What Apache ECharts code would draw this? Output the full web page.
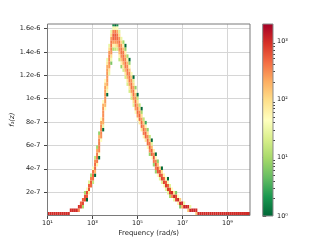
<!DOCTYPE html>
<html><head><meta charset="utf-8">
<script src="https://cdn.jsdelivr.net/npm/echarts@6/dist/echarts.min.js"></script>
<style>html,body{margin:0;padding:0;background:#fff}#c{width:320px;height:240px}</style>
</head><body><div id="c"></div>
<script>
// ---- histogram binning (log10 frequency columns, f1(z) rows) ----
const logFreqStart = 1;          // first bin starts at 10^1 rad/s
const logFreqBinWidth = 0.09;    // 100 bins up to 10^10
const f1BinHeight = 3e-8;
const yMax = 1.64e-6;
const countMax = 1960;

// ---- tick labels ----
const xTickExponents = [1, 3, 5, 7, 9];
const yTickValues = [2e-7, 4e-7, 6e-7, 8e-7, 1e-6, 1.2e-6, 1.4e-6, 1.6e-6];
const countTickExponents = [0, 1, 2, 3];

// ---- 2D histogram counts: one entry per frequency column, [row, count] ----
const cellsByColumn = [
  [[0,1000]],[[0,1000]],[[0,1000]],[[0,1000]],[[0,1000]],[[0,1000]],
  [[0,1000]],[[0,1000]],[[0,1000]],[[0,1000]],[[0,1000]],
  [[1,1000]],[[1,1000]],[[1,1000]],[[1,1000]],
  [[1,300],[2,900]],
  [[2,800],[3,500]],
  [[2,10],[3,700],[4,500]],
  [[4,650],[5,600],[6,10]],
  [[4,1],[5,550],[6,650],[7,40]],
  [[6,60],[7,600],[8,500],[9,25]],
  [[8,450],[9,550],[10,350],[11,12]],
  [[9,15],[10,400],[11,500],[12,420],[13,40]],
  [[11,1],[12,180],[13,450],[14,450],[15,300],[16,15]],
  [[14,60],[15,380],[16,400],[17,380],[18,220],[19,10]],
  [[16,1],[17,45],[18,320],[19,350],[20,350],[21,320],[22,180],[23,8]],
  [[21,45],[22,280],[23,320],[24,330],[25,320],[26,230],[27,45]],
  [[24,1],[25,30],[26,200],[27,280],[28,290],[29,290],[30,280],[31,200],[32,45]],
  [[30,45],[31,170],[32,250],[33,260],[34,260],[35,250],[36,240],[37,130],[38,45]],
  [[34,1],[35,35],[36,90],[37,230],[38,260],[39,260],[40,260],[41,250],[42,200],[43,80],[44,30]],
  [[40,30],[41,80],[42,250],[43,300],[44,320],[45,320],[46,260],[47,100],[48,30]],
  [[43,6],[44,35],[45,100],[46,260],[47,350],[48,380],[49,380],[50,260],[51,100],[52,30]],
  [[47,12],[48,60],[49,250],[50,480],[51,520],[52,300],[53,35],[54,2]],
  [[47,15],[48,70],[49,260],[50,460],[51,550],[52,380],[53,60],[54,1]],
  [[47,20],[48,120],[49,300],[50,450],[51,420],[52,220],[53,40],[54,2]],
  [[44,15],[45,60],[46,150],[47,300],[48,400],[49,400],[50,280],[51,100],[52,25]],
  [[42,8],[43,60],[44,160],[45,300],[46,400],[47,400],[48,280],[49,110],[50,30]],
  [[41,20],[42,80],[43,200],[44,380],[45,420],[46,380],[47,180],[48,60],[49,10]],
  [[39,20],[40,80],[41,180],[42,380],[43,420],[44,330],[45,180],[46,60],[47,8],[48,1]],
  [[37,20],[38,80],[39,200],[40,380],[41,420],[42,320],[43,180],[44,60],[45,10]],
  [[35,20],[36,80],[37,230],[38,380],[39,420],[40,320],[41,150],[42,50],[43,8],[44,1]],
  [[33,20],[34,80],[35,250],[36,420],[37,420],[38,280],[39,130],[40,40]],
  [[31,25],[32,100],[33,280],[34,420],[35,400],[36,250],[37,100],[38,25],[39,1]],
  [[29,40],[30,230],[31,420],[32,420],[33,300],[34,150],[35,50],[36,8]],
  [[27,45],[28,280],[29,450],[30,400],[31,230],[32,90],[33,15],[34,1]],
  [[26,80],[27,450],[28,480],[29,280],[30,100],[31,15]],
  [[24,80],[25,450],[26,480],[27,260],[28,90],[29,10],[30,1]],
  [[22,60],[23,380],[24,450],[25,300],[26,120],[27,15]],
  [[21,80],[22,480],[23,480],[24,230],[25,60],[26,3]],
  [[19,40],[20,420],[21,480],[22,300],[23,90],[24,8]],
  [[17,8],[18,300],[19,520],[20,380],[21,120],[22,15]],
  [[16,45],[17,520],[18,520],[19,180],[20,25],[21,1]],
  [[14,8],[15,380],[16,600],[17,300],[18,60]],
  [[12,8],[13,380],[14,600],[15,330],[16,50],[17,1]],
  [[11,45],[12,600],[13,600],[14,150],[15,8]],
  [[10,25],[11,680],[12,600],[13,120]],
  [[9,25],[10,750],[11,520],[12,90],[13,1]],
  [[8,40],[9,750],[10,520],[11,60]],
  [[7,25],[8,820],[9,520],[10,50]],
  [[6,25],[7,820],[8,520],[9,40],[10,1]],
  [[5,10],[6,820],[7,600],[8,25]],
  [[5,300],[6,1000],[7,45]],
  [[4,30],[5,1100],[6,90]],
  [[4,750],[5,750],[6,6]],
  [[3,60],[4,1100],[5,45]],
  [[2,6],[3,1100],[4,120]],
  [[2,220],[3,1050]],
  [[2,1100],[3,30]],
  [[2,1100]],
  [[1,150],[2,1000]],
  [[1,1100],[2,30]],
  [[1,1100]],
  [[1,1100]],
  [[0,150],[1,1000]],
  [[0,1000]],[[0,1000]],[[0,1000]],[[0,1000]],[[0,1000]],[[0,1000]],
  [[0,1000]],[[0,1000]],[[0,1000]],[[0,1000]],[[0,1000]],[[0,1000]],
  [[0,1000]],[[0,1000]],[[0,1000]],[[0,1000]],[[0,1000]],[[0,1000]],
  [[0,1000]],[[0,1000]],[[0,1000]],[[0,1000]],[[0,1000]],[[0,1000]],
  [[0,1000]],[[0,1000]]
];

// ---- colormap RdYlGn reversed ----
const cmap = ['#006837','#1a9850','#66bd63','#a6d96a','#d9ef8b','#ffffbf','#fee08b','#fdae61','#f46d43','#d73027','#a50026'];
function hex2rgb(h){return [parseInt(h.substr(1,2),16),parseInt(h.substr(3,2),16),parseInt(h.substr(5,2),16)];}
function countColor(c){
  let t = Math.log10(c) / Math.log10(countMax);
  t = Math.max(0, Math.min(1, t));
  const p = t * (cmap.length - 1);
  const i = Math.min(cmap.length - 2, Math.floor(p));
  const f = p - i;
  const a = hex2rgb(cmap[i]), b = hex2rgb(cmap[i+1]);
  return 'rgb(' + a.map((v,k)=>Math.round(v + (b[k]-v)*f)).join(',') + ')';
}
const SUP = {'0':'⁰','1':'¹','2':'²','3':'³','4':'⁴','5':'⁵','6':'⁶','7':'⁷','8':'⁸','9':'⁹','-':'⁻'};
function pow10Label(e){ return '10' + String(e).split('').map(ch=>SUP[ch]).join(''); }

// build heatmap table from the histogram arrays
const cellData = [];
cellsByColumn.forEach((cells, col) => {
  const x0 = logFreqStart + col * logFreqBinWidth;
  cells.forEach(([row, count]) => {
    cellData.push([x0, row * f1BinHeight, x0 + logFreqBinWidth, (row + 1) * f1BinHeight, count]);
  });
});

const minorCountTicks = [];
countTickExponents.forEach(e => { for (let m = 2; m <= 9; m++) { const v = e + Math.log10(m); if (v < Math.log10(countMax)) minorCountTicks.push(v); } });

const FONT = 'DejaVu Sans';
const G = {left: 47.5, top: 24, width: 202.5, height: 191.5};
const CB = {left: 262.7, top: 24, width: 10.3, height: 192};

const chart = echarts.init(document.getElementById('c'), null, {renderer: 'canvas'});
chart.setOption({
  animation: false,
  backgroundColor: '#fff',
  grid: [
    {left: G.left, top: G.top, width: G.width, height: G.height},
    {left: CB.left, top: CB.top, width: CB.width, height: CB.height}
  ],
  xAxis: [
    {gridIndex: 0, type: 'value', min: 1, max: 10, interval: 2,
      axisLine: {show: false},
      axisTick: {show: true, length: 3.5, customValues: xTickExponents, lineStyle: {color: '#444', width: 1}},
      axisLabel: {customValues: xTickExponents, formatter: v => pow10Label(Math.round(v)), fontFamily: FONT, fontSize: 6.5, color: '#222', margin: 4},
      splitLine: {show: true, lineStyle: {color: '#d6d6d6', width: 1}}},
    {gridIndex: 1, type: 'value', min: 0, max: 1, show: false}
  ],
  yAxis: [
    {gridIndex: 0, type: 'value', min: 0, max: yMax, interval: 2e-7,
      axisLine: {show: false},
      axisTick: {show: true, length: 3.5, customValues: yTickValues, lineStyle: {color: '#444', width: 1}},
      axisLabel: {customValues: yTickValues, fontFamily: FONT, fontSize: 6.5, color: '#222', margin: 7,
        formatter: v => {
          if (!yTickValues.some(t => Math.abs(t - v) < 1e-12)) return '';
          const e = Math.floor(Math.log10(v) + 1e-9);
          const m = Math.round(v / Math.pow(10, e) * 10) / 10;
          return m + 'e' + e;
        }},
      splitLine: {show: true, lineStyle: {color: '#d6d6d6', width: 1}}},
    {gridIndex: 1, type: 'value', min: 0, max: Math.log10(countMax), position: 'right', interval: 1,
      axisLine: {show: false},
      axisTick: {show: true, length: 3.5, customValues: countTickExponents, lineStyle: {color: '#444'}},
      axisLabel: {customValues: countTickExponents, formatter: v => pow10Label(Math.round(v)), fontFamily: FONT, fontSize: 6.5, color: '#222', margin: 4},
      splitLine: {show: false}},
    {gridIndex: 1, type: 'value', min: 0, max: Math.log10(countMax), position: 'right', interval: 1,
      axisLine: {show: false},
      axisTick: {show: true, length: 2, customValues: minorCountTicks, lineStyle: {color: '#444'}},
      axisLabel: {show: false},
      splitLine: {show: false}}
  ],
  series: [
    {type: 'custom', xAxisIndex: 0, yAxisIndex: 0, data: cellData,
      encode: {x: [0, 2], y: [1, 3]},
      renderItem: (params, api) => {
        const p0 = api.coord([api.value(0), api.value(3)]);
        const p1 = api.coord([api.value(2), api.value(1)]);
        const cs = params.coordSys;
        const r = echarts.graphic.clipRectByRect(
          {x: p0[0], y: p0[1], width: p1[0] - p0[0], height: p1[1] - p0[1]},
          {x: cs.x, y: cs.y, width: cs.width, height: cs.height});
        if (!r) return null;
        return {type: 'rect', shape: r, style: {fill: countColor(api.value(4))}};
      }},
    {type: 'custom', xAxisIndex: 1, yAxisIndex: 1, data: [[0, 0, 1, Math.log10(countMax)]],
      encode: {x: [0, 2], y: [1, 3]},
      renderItem: (params, api) => {
        const p0 = api.coord([api.value(0), api.value(3)]);
        const p1 = api.coord([api.value(2), api.value(1)]);
        const stops = cmap.map((c, i) => ({offset: i / (cmap.length - 1), color: c}));
        return {type: 'rect', shape: {x: p0[0], y: p0[1], width: p1[0] - p0[0], height: p1[1] - p0[1]},
          style: {fill: new echarts.graphic.LinearGradient(0, 1, 0, 0, stops)}};
      }}
  ],
  graphic: [
    {type: 'rect', z: 100, shape: {x: G.left, y: G.top, width: G.width, height: G.height},
      style: {fill: 'none', stroke: '#7a7a7a', lineWidth: 1}},
    {type: 'rect', z: 100, shape: {x: CB.left, y: CB.top, width: CB.width, height: CB.height},
      style: {fill: 'none', stroke: '#8a8a8a', lineWidth: 1}},
    {type: 'text', z: 100, x: G.left + G.width / 2, y: 233,
      style: {text: 'Frequency (rad/s)', fontFamily: FONT, fontSize: 6.9, fill: '#222', textAlign: 'center', textVerticalAlign: 'middle'}},
    {type: 'text', z: 100, x: 12.5, y: G.top + G.height / 2, rotation: Math.PI / 2,
      style: {text: 'f₁(z)', fontFamily: FONT, fontStyle: 'italic', fontSize: 6.9, fill: '#222', textAlign: 'center', textVerticalAlign: 'middle'}}
  ]
});
</script></body></html>
